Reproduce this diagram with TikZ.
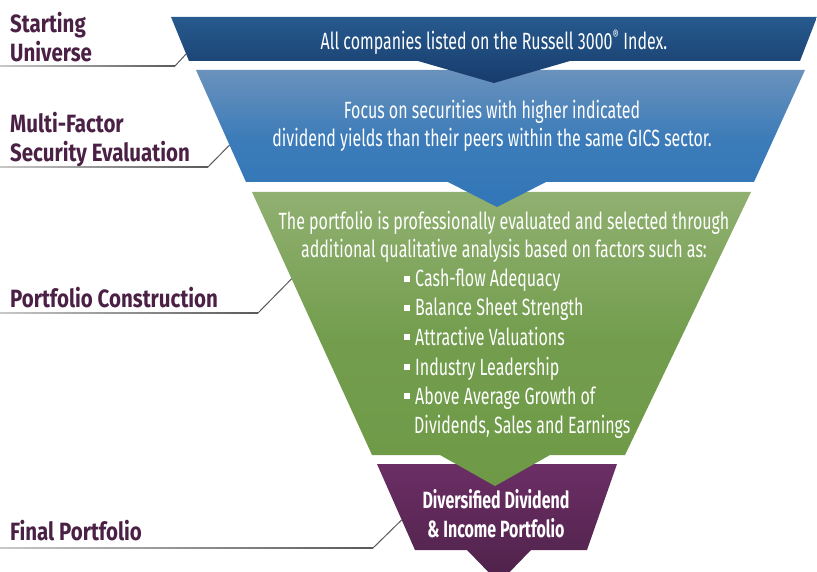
\documentclass[tikz,border=0pt]{standalone}
\usepackage{fontspec}
\setmainfont{Fira Sans}[FakeStretch=0.68]
\newfontfamily\labelfont{Fira Sans}[FakeStretch=0.82]
\usetikzlibrary{calc}
\definecolor{navyT}{HTML}{275A8E}
\definecolor{navyB}{HTML}{173B6C}
\definecolor{blueT}{HTML}{6A92BC}
\definecolor{blueB}{HTML}{3176B8}
\definecolor{greenT}{HTML}{90B071}
\definecolor{greenB}{HTML}{6E9A47}
\definecolor{purpT}{HTML}{6B2E65}
\definecolor{purpB}{HTML}{4E2249}
\definecolor{labelc}{HTML}{4A2045}
\definecolor{leadL}{HTML}{C8C8C8}
\definecolor{leadR}{HTML}{5A5A5A}
\tikzset{
  body/.style={anchor=base, text=white, inner sep=0pt, font=\fontsize{23.5}{28}\selectfont},
  bodyL/.style={body, anchor=base west},
  boldbody/.style={body, font=\fontsize{23.5}{28}\selectfont\bfseries},
  lbl/.style={anchor=base west, text=labelc, inner sep=0pt, font=\labelfont\fontsize{25}{30}\selectfont\bfseries},
  bul/.style={fill=white, minimum size=6pt, inner sep=0pt},
  leadline/.style={draw=leadR, line width=1pt},
}
\begin{document}
\begin{tikzpicture}[x=1pt,y=-1pt]
\useasboundingbox (0,0) rectangle (817,572);
\clip (0,0) rectangle (817,572);
% band corner coordinates
\coordinate (n1) at (171,17);  \coordinate (n2) at (817,17);
\coordinate (n3) at (800,61);  \coordinate (n4) at (570,61);
\coordinate (n5) at (494,83);  \coordinate (n6) at (418,61);
\coordinate (n7) at (189,61);
\coordinate (b1) at (196,70);  \coordinate (b2) at (805,70);
\coordinate (b3) at (754,182); \coordinate (b4) at (546,182);
\coordinate (b5) at (497,207); \coordinate (b6) at (448,182);
\coordinate (b7) at (246,182);
\coordinate (g1) at (252,192); \coordinate (g2) at (751,192);
\coordinate (g3) at (625,455); \coordinate (g4) at (550,455);
\coordinate (g5) at (495,486); \coordinate (g6) at (440,455);
\coordinate (g7) at (372,455);
\coordinate (p1) at (377,464); \coordinate (p2) at (617,464);
\coordinate (p3) at (587,550); \coordinate (p4) at (531,550);
\coordinate (p5) at (499,583); \coordinate (p6) at (467,550);
\coordinate (p7) at (415,550);
% bands (bottom first so upper arrows overlap)
\shade[top color=purpT, bottom color=purpB] (p1)--(p2)--(p3)--(p4)--(p5)--(p6)--(p7)--cycle;
\shade[top color=greenT, bottom color=greenB, middle color=greenB!85!greenT] (g1)--(g2)--(g3)--(g4)--(g5)--(g6)--(g7)--cycle;
\shade[top color=blueT, bottom color=blueB, middle color=blueB!80!blueT] (b1)--(b2)--(b3)--(b4)--(b5)--(b6)--(b7)--cycle;
\shade[top color=navyT, bottom color=navyB] (n1)--(n2)--(n3)--(n4)--(n5)--(n6)--(n7)--cycle;
% band texts
\node[body] (t1) at (494,49.5) {All companies listed on the Russell 3000\textsuperscript{\fontsize{14}{14}\selectfont®} Index.};
\node[body] (t2a) at (492,119) {Focus on securities with higher indicated};
\node[body] (t2b) at (492,147) {dividend yields than their peers within the same GICS sector.};
\node[body] (t3a) at (504,230) {The portfolio is professionally evaluated and selected through};
\node[body] (t3b) at (504,258) {additional qualitative analysis based on factors such as:};
\foreach \nm/\yy/\txt in {i1/287/Cash-flow Adequacy, i2/316/Balance Sheet Strength, i3/345/Attractive Valuations, i4/375/Industry Leadership, i5/404/Above Average Growth of}{
  \node[bodyL] (\nm) at (415,\yy) {\txt};
  \node[bul] (\nm b) at (406.5,\yy-8) {};
}
\node[bodyL] (i6) at (414,433) {Dividends, Sales and Earnings};
\node[boldbody] (t4a) at (496,508) {Diversified Dividend};
\node[boldbody] (t4b) at (496,537) {\& Income Portfolio};
% labels
\node[lbl] (L1a) at (10,33) {Starting};
\node[lbl] (L1b) at (10,62) {Universe};
\node[lbl] (L2a) at (10,133) {Multi-Factor};
\node[lbl] (L2b) at (10,162) {Security Evaluation};
\node[lbl] (L3) at (10,308) {Portfolio Construction};
\node[lbl] (L4) at (10,540) {Final Portfolio};
% leader lines
\coordinate (s1) at (0,66);   \coordinate (k1) at (175,66);  \coordinate (e1) at ($(n1)!0.84!(n7)$);
\coordinate (s2) at (0,167);  \coordinate (k2) at (208,167); \coordinate (e2) at ($(b1)!0.67!(b7)$);
\coordinate (s3) at (0,313);  \coordinate (k3) at (258,313); \coordinate (e3) at ($(g1)!0.33!(g7)$);
\coordinate (s4) at (0,548);  \coordinate (k4) at (373,548); \coordinate (e4) at ($(p1)!0.65!(p7)$);
\foreach \i in {1,2,3,4}{
  \shade[left color=leadL, right color=leadR] ($(s\i)+(0,-0.6)$) rectangle ($(k\i)+(0,0.6)$);
  \draw[leadline] (k\i) -- (e\i);
}
\end{tikzpicture}
\end{document}
